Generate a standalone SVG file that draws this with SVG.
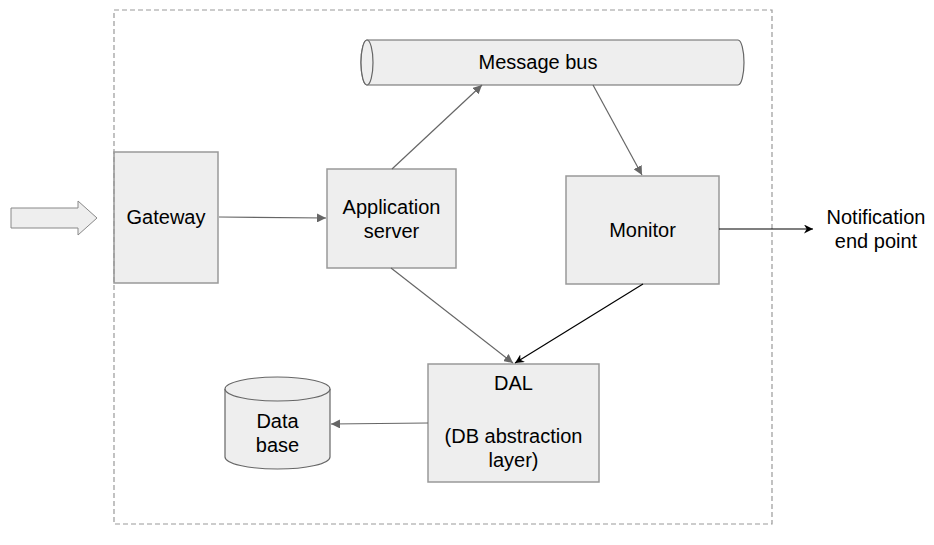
<svg xmlns="http://www.w3.org/2000/svg" width="934" height="545" viewBox="0 0 934 545">
<style>
.box{fill:#eeeeee;stroke:#999999;stroke-width:1.5}
.shape{fill:#eeeeee;stroke:#666666;stroke-width:1.2}
.t{font-family:"Liberation Sans",Arial,sans-serif;font-size:20px;fill:#000;text-anchor:middle}
.c{fill:none;stroke:#666666;stroke-width:1.2}
.k{fill:none;stroke:#000000;stroke-width:1.2}
</style>
<defs>
<marker id="ag" viewBox="0 0 10 10" refX="10" refY="5" markerWidth="9" markerHeight="9" markerUnits="userSpaceOnUse" orient="auto"><path d="M0,0 L10,5 L0,10 z" fill="#666666"/></marker>
<marker id="ak" viewBox="0 0 10 10" refX="10" refY="5" markerWidth="9" markerHeight="9" markerUnits="userSpaceOnUse" orient="auto"><path d="M0,0 L10,5 L0,10 L3,5 z" fill="#000000"/></marker>
</defs>
<g id="input-arrow"><path d="M11,208 L78,208 L78,201 L97,218 L78,235 L78,228 L11,228 z" fill="#eeeeee" stroke="#888888" stroke-width="1"/></g>
<g id="gateway"><rect class="box" x="114" y="152" width="104" height="131"/><text class="t" x="166" y="224">Gateway</text></g>
<rect x="114" y="10" width="658" height="514" fill="none" stroke="#999999" stroke-width="1.2" stroke-dasharray="5,3"/>
<g id="app-server"><rect class="box" x="327" y="169" width="129" height="99"/><text class="t" x="391.5" y="214">Application</text><text class="t" x="391.5" y="238">server</text></g>
<g id="message-bus"><path class="shape" d="M367,40 L738,40 A6,22.5 0 0 1 738,85 L367,85 A6,22.5 0 0 1 367,40 z"/><ellipse class="shape" cx="367" cy="62.5" rx="6" ry="22.5"/><text class="t" x="538" y="69">Message bus</text></g>
<g id="monitor"><rect class="box" x="566" y="176" width="153" height="108"/><text class="t" x="642.5" y="237">Monitor</text></g>
<g id="dal"><rect class="box" x="428" y="364" width="171" height="118"/><text class="t" x="513.5" y="390">DAL</text><text class="t" x="513.5" y="443">(DB abstraction</text><text class="t" x="513.5" y="467">layer)</text></g>
<g id="database"><path class="shape" d="M225,389 L225,457 A52.5,12 0 0 0 330,457 L330,389"/><ellipse class="shape" cx="277.5" cy="389" rx="52.5" ry="12"/><text class="t" x="277.5" y="428">Data</text><text class="t" x="277.5" y="452">base</text></g>
<g id="notification"><text class="t" x="876" y="224">Notification</text><text class="t" x="876" y="248">end point</text></g>
<g id="connectors">
<line class="c" x1="219" y1="217" x2="326" y2="218" marker-end="url(#ag)"/>
<line class="c" x1="392" y1="169" x2="482" y2="85" marker-end="url(#ag)"/>
<line class="c" x1="593" y1="85" x2="642" y2="175" marker-end="url(#ag)"/>
<line class="c" x1="391" y1="268" x2="513" y2="363" marker-end="url(#ag)"/>
<line class="k" x1="643" y1="284" x2="515" y2="363" marker-end="url(#ak)"/>
<line class="c" x1="428" y1="423" x2="331" y2="424" marker-end="url(#ag)"/>
<line class="k" x1="719" y1="229" x2="813" y2="229" marker-end="url(#ak)"/>
</g>
</svg>
